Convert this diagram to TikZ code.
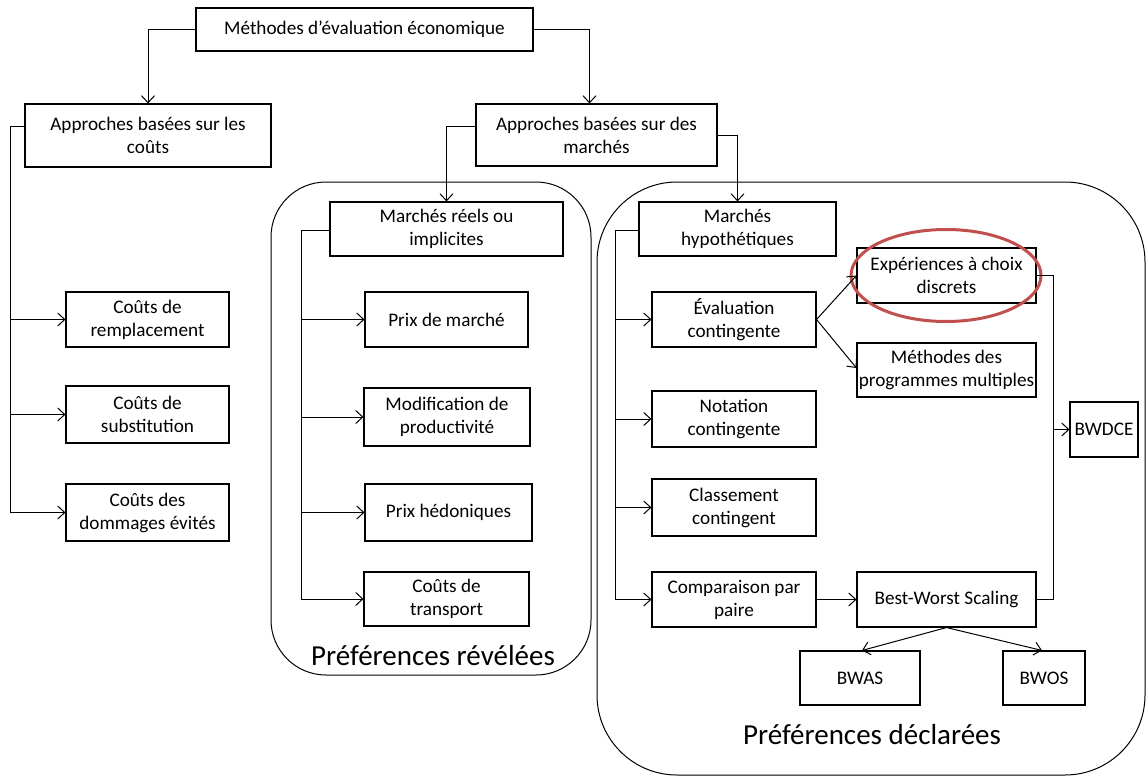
\documentclass[tikz,border=0pt]{standalone}
\usepackage{fontspec}
\setmainfont{Carlito}
\usetikzlibrary{arrows.meta}
\definecolor{ovred}{RGB}{192,80,77}
\begin{document}
\begin{tikzpicture}[x=1pt,y=-1pt,
 box/.style={draw, line width=1.1pt, align=center, inner sep=0pt, font=\fontsize{19.2}{23}\selectfont},
 arr/.style={-{Straight Barb[length=7pt,width=13pt]}, line width=1pt},
 ln/.style={line width=1pt},
 grp/.style={draw, line width=1pt, rounded corners=#1},
 big/.style={font=\fontsize{29}{34}\selectfont}]
\useasboundingbox (0,0) rectangle (1146,776);
% group frames
\draw[grp=55pt] (271,182) rectangle (591,675);
\draw[grp=80pt] (597,182) rectangle (1145,775);
\node[big] (lrev) at (433,656) {Préférences révélées};
\node[big] (ldec) at (872,735) {Préférences déclarées};
% nodes
\node[box, minimum width=337pt, minimum height=43pt] (top) at (364.5,29.5) {Méthodes d’évaluation économique};
\node[box, minimum width=246pt, minimum height=63pt] (cost) at (148,135.5) {Approches basées sur les\\coûts};
\node[box, minimum width=241pt, minimum height=62pt] (market) at (596.5,135) {Approches basées sur des\\marchés};
\node[box, minimum width=233pt, minimum height=54pt] (reel) at (446.5,229) {Marchés réels ou\\implicites};
\node[box, minimum width=197pt, minimum height=54pt] (hyp) at (737.5,229) {Marchés\\hypothétiques};
\node[box, minimum width=163pt, minimum height=55pt] (remp) at (147.5,319.5) {Coûts de\\remplacement};
\node[box, minimum width=163pt, minimum height=57pt] (subst) at (147.5,414.5) {Coûts de\\substitution};
\node[box, minimum width=163pt, minimum height=57pt] (domm) at (147.5,512.5) {Coûts des\\dommages évités};
\node[box, minimum width=163pt, minimum height=55pt] (prixm) at (446.5,319.5) {Prix de marché};
\node[box, minimum width=166pt, minimum height=58pt] (modif) at (447,417) {Modification de\\productivité};
\node[box, minimum width=167pt, minimum height=57pt] (hedon) at (448.5,512.5) {Prix hédoniques};
\node[box, minimum width=165pt, minimum height=54pt] (transp) at (446.5,599) {Coûts de\\transport};
\node[box, minimum width=164pt, minimum height=55pt] (eval) at (734,319.5) {Évaluation\\contingente};
\node[box, minimum width=164pt, minimum height=56pt] (nota) at (734,419) {Notation\\contingente};
\node[box, minimum width=164pt, minimum height=57pt] (class) at (734,507.5) {Classement\\contingent};
\node[box, minimum width=164pt, minimum height=55pt] (comp) at (734,599.5) {Comparaison par\\paire};
\node[box, minimum width=179pt, minimum height=55pt] (exp) at (946.5,275.5) {Expériences à choix\\discrets};
\node[box, minimum width=179pt, minimum height=54pt] (mpm) at (946.5,370) {Méthodes des\\programmes multiples};
\node[box, minimum width=179pt, minimum height=55pt] (bws) at (946.5,599.5) {Best-Worst Scaling};
\node[box, minimum width=68pt, minimum height=55pt] (bwdce) at (1104,429.5) {BWDCE};
\node[box, minimum width=120pt, minimum height=54pt] (bwas) at (860,678) {BWAS};
\node[box, minimum width=82pt, minimum height=54pt] (bwos) at (1044,678) {BWOS};
% highlight
\draw[ovred, line width=3pt] (946,275.5) ellipse [x radius=95pt, y radius=46pt];
% connectors
\draw[arr] (top.west) -| (cost.north);
\draw[arr] (top.east) -| ([xshift=-7pt]market.north);
\draw[arr] ([yshift=9pt]market.west) -| (reel.north);
\draw[arr] (market.east) -| (hyp.north);
% cost tree
\draw[ln] ([yshift=9.5pt]cost.west) -- ++(-14,0) coordinate (cl);
\draw[arr] (cl) |- (domm.west);
\draw[arr] (cl |- remp.west) -- (remp.west);
\draw[arr] (cl |- subst.west) -- (subst.west);
% revealed tree
\draw[ln] ([yshift=-1pt]reel.west) -- ++(-28,0) coordinate (rl);
\draw[arr] (rl) |- (transp.west);
\draw[arr] (rl |- prixm.west) -- (prixm.west);
\draw[arr] (rl |- modif.west) -- (modif.west);
\draw[arr] (rl |- hedon.west) -- (hedon.west);
% stated tree
\draw[ln] ([yshift=-1pt]hyp.west) -- ++(-23,0) coordinate (hl);
\draw[arr] (hl) |- (comp.west);
\draw[arr] (hl |- eval.west) -- (eval.west);
\draw[arr] (hl |- nota.west) -- (nota.west);
\draw[arr] (hl |- class.west) -- (class.west);
\draw[arr] (eval.east) -- (exp.west);
\draw[arr] (eval.east) -- ([yshift=2pt]mpm.west);
\draw[arr] (comp.east) -- (bws.west);
\draw[ln] (exp.east) -- ++(17,0) coordinate (j) |- (bws.east);
\draw[arr] (j |- bwdce.west) -- (bwdce.west);
\draw[arr] (bws.south) -- ([xshift=2pt]bwas.north);
\draw[arr] (bws.south) -- ([xshift=-2pt]bwos.north);
\end{tikzpicture}
\end{document}
